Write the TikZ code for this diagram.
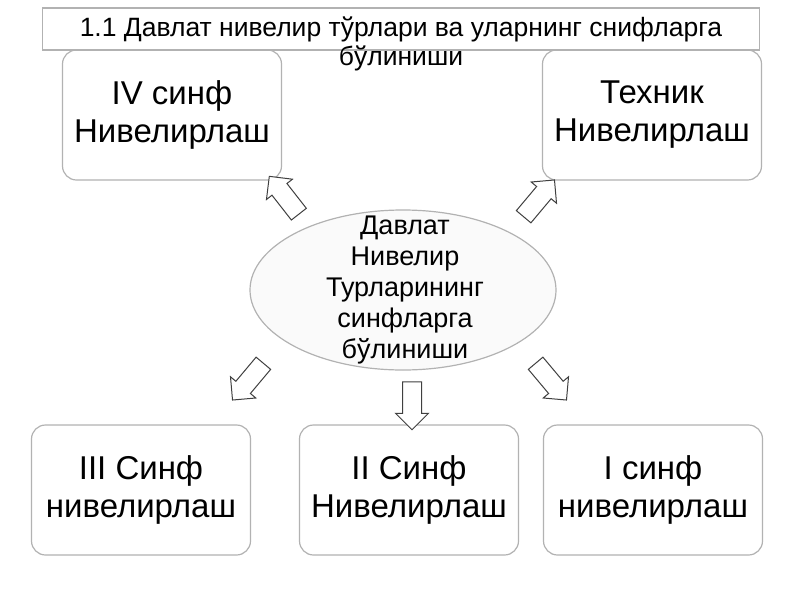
\documentclass[tikz,border=0pt]{standalone}
\usepackage{fontspec}
\setmainfont{Liberation Sans}
\usetikzlibrary{shapes.arrows,shapes.geometric}
\begin{document}
\begin{tikzpicture}[x=1pt,y=-1pt,
  box/.style={draw=black!30,line width=1.2pt,rounded corners=14pt,fill=white,minimum width=219pt,minimum height=130pt,align=center,font=\fontsize{33}{38}\selectfont},
  arr/.style={single arrow,draw=black!75,line width=1pt,fill=white,minimum height=48pt,inner xsep=0pt,inner ysep=9pt,single arrow head extend=7pt}]
\useasboundingbox (0,0) rectangle (800,600);
\node[box] (iv) at (172,115) {IV синф\\Нивелирлаш};
\node[box] (tech) at (652,115) {Техник\\Нивелирлаш};
\node[box] (iii) at (141,490) {III Синф\\нивелирлаш};
\node[box] (ii) at (409,490) {II Синф\\Нивелирлаш};
\node[box] (i) at (653,490) {I синф\\нивелирлаш};
\node[draw=black!30,line width=1.2pt,fill=white,minimum width=717pt,minimum height=42pt] (tbox) at (401,29) {};
\node[align=center,font=\fontsize{26.5}{29}\selectfont,anchor=north,inner sep=0pt] (title) at (401,17) {1.1 Давлат нивелир тўрлари ва уларнинг снифларга\\бўлиниши};
\node[ellipse,draw=black!30,line width=1.2pt,fill=black!2,minimum width=306pt,minimum height=160pt] (el) at (403,290) {};
\node[align=center,font=\fontsize{27}{31}\selectfont] (eltext) at (405,290) {Давлат\\Нивелир\\Турларининг\\синфларга\\бўлиниши};
\node[arr,rotate=128] (a1) at (287,199) {};
\node[arr,rotate=50] (a2) at (536,202) {};
\node[arr,rotate=230] (a3) at (251,378) {};
\node[arr,rotate=270] (a4) at (412,401) {};
\node[arr,rotate=310] (a5) at (548,378) {};
\end{tikzpicture}
\end{document}
